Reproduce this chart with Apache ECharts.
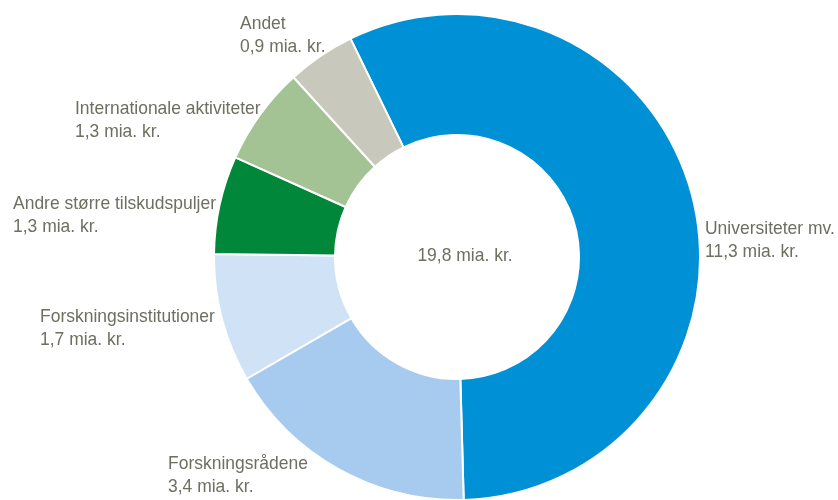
<!DOCTYPE html>
<html>
<head>
<meta charset="utf-8">
<script src="https://cdn.jsdelivr.net/npm/echarts@6/dist/echarts.min.js"></script>
<style>html,body{margin:0;padding:0;background:#fff}#c{width:838px;height:500px}</style>
</head>
<body>
<div id="c"></div>
<script>
const categories = ["Universiteter mv.", "Forskningsrådene", "Forskningsinstitutioner", "Andre større tilskudspuljer", "Internationale aktiviteter", "Andet"];
const values = [11.3, 3.4, 1.7, 1.3, 1.3, 0.9];
const valueLabels = ["11,3 mia. kr.", "3,4 mia. kr.", "1,7 mia. kr.", "1,3 mia. kr.", "1,3 mia. kr.", "0,9 mia. kr."];
const totalLabel = "19,8 mia. kr.";

const colors = ["#0090D5", "#A6CBEE", "#CFE2F6", "#00873A", "#A3C394", "#C9C8BC"];
const labelPos = [[705, 217], [168, 452], [40, 305], [13, 192], [75, 97], [240, 12]];
const FONT = '"Liberation Sans", Arial, sans-serif';
const FS = 19, SX = 0.92;
const TEXT = '#6E6E62';

const labelGraphics = categories.map((n, i) => ({
  type: 'text', x: labelPos[i][0], y: labelPos[i][1], scaleX: SX, silent: true,
  style: {text: n + '\n' + valueLabels[i], font: FS + 'px ' + FONT, lineHeight: 23, fill: TEXT, align: 'left', verticalAlign: 'top'}
}));

const chart = echarts.init(document.getElementById('c'), null, {renderer: 'canvas'});
chart.setOption({
  animation: false,
  graphic: [{
    type: 'text', x: 465, y: 256, scaleX: SX, silent: true,
    style: {text: totalLabel, align: 'center', verticalAlign: 'middle', font: FS + 'px ' + FONT, fill: TEXT}
  }].concat(labelGraphics),
  series: [{
    type: 'pie',
    center: [457, 257],
    radius: [122, 243],
    startAngle: 116,
    clockwise: true,
    avoidLabelOverlap: false,
    itemStyle: {borderColor: '#fff', borderWidth: 2},
    label: {show: false},
    labelLine: {show: false},
    emphasis: {disabled: true},
    data: categories.map((n, i) => ({name: n, value: values[i], itemStyle: {color: colors[i]}}))
  }]
});
</script>
</body>
</html>
